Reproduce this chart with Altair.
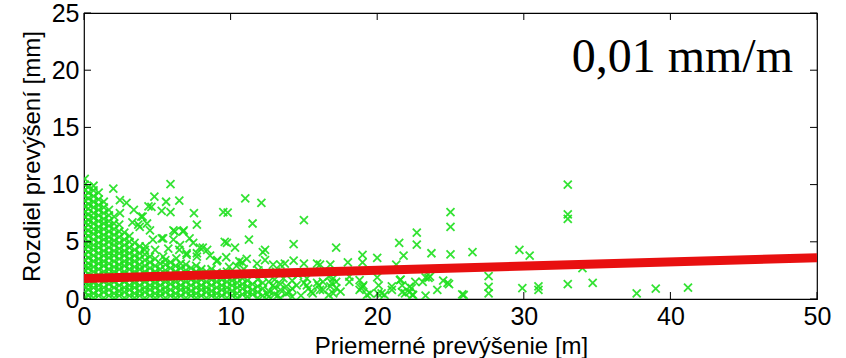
import altair as alt
import pandas as pd

# ---- data ----
x_ticks = [0, 10, 20, 30, 40, 50]
y_ticks = [0, 5, 10, 15, 20, 25]

# dense cluster near the origin: one column of y values per x position
dense_x = [0.05, 0.3, 0.65, 1.0, 1.35, 1.7, 2.05, 2.4, 2.75, 3.1, 3.45, 3.8, 4.15, 4.5,
           4.85, 5.2, 5.55, 5.9, 6.25, 6.6, 6.95, 7.3, 7.65, 8.0, 8.35, 8.7, 9.05, 9.4,
           9.75, 10.1, 10.45, 10.8, 11.15, 11.5, 11.85, 12.2, 12.6, 13.0, 13.4, 13.8, 14.2]
dense_y = [
    [0.15, 0.6, 1.1, 1.5, 2.0, 2.5, 2.9, 3.4, 3.9, 4.4, 4.8, 5.3, 5.8, 6.2, 6.7, 7.2, 7.6, 8.1, 8.6, 9.0, 9.5, 10.0, 10.5],
    [0.3, 0.8, 1.2, 1.7, 2.2, 2.7, 3.1, 3.6, 4.1, 4.6, 5.0, 5.5, 6.0, 6.5, 6.9, 7.4, 7.9, 8.3, 8.8, 9.3, 9.8],
    [0.1, 0.5, 1.0, 1.4, 1.9, 2.4, 2.8, 3.3, 3.8, 4.3, 4.7, 5.2, 5.7, 6.1, 6.6, 7.1, 7.5, 8.0, 8.5, 9.0, 9.5, 9.9],
    [0.3, 0.8, 1.2, 1.7, 2.1, 2.6, 3.1, 3.5, 4.0, 4.5, 4.9, 5.4, 5.9, 6.3, 6.8, 7.3, 7.8, 8.2, 8.7, 9.3],
    [0.1, 0.6, 1.0, 1.5, 2.0, 2.4, 2.9, 3.3, 3.8, 4.2, 4.7, 5.2, 5.6, 6.1, 6.6, 7.0, 7.5, 8.0, 8.5],
    [0.3, 0.8, 1.3, 1.7, 2.2, 2.6, 3.1, 3.6, 4.0, 4.5, 5.0, 5.4, 5.9, 6.4, 6.8, 7.3, 7.8],
    [0.1, 0.5, 1.0, 1.5, 1.9, 2.4, 2.8, 3.3, 3.8, 4.2, 4.7, 5.1, 5.6, 6.1, 6.6, 7.2],
    [0.3, 0.7, 1.2, 1.7, 2.1, 2.6, 3.0, 3.5, 4.0, 4.4, 4.9, 5.4, 5.9, 6.5],
    [0.1, 0.6, 1.0, 1.5, 1.9, 2.4, 2.9, 3.3, 3.8, 4.2, 4.7, 5.2, 5.8],
    [0.3, 0.8, 1.2, 1.7, 2.1, 2.6, 3.1, 3.5, 4.0, 4.5, 5.0, 5.5],
    [0.1, 0.5, 1.0, 1.4, 1.9, 2.4, 2.8, 3.3, 3.8, 4.3, 4.9],
    [0.3, 0.7, 1.2, 1.7, 2.1, 2.6, 3.0, 3.5, 4.0, 4.6],
    [0.1, 0.6, 1.0, 1.5, 1.9, 2.4, 2.9, 3.4, 3.9, 4.3],
    [0.3, 0.8, 1.2, 1.7, 2.2, 2.7, 3.2, 3.7],
    [0.1, 0.5, 1.0, 1.4, 1.9, 2.4, 2.9, 3.5],
    [0.3, 0.7, 1.2, 1.7, 2.2, 2.6, 3.1],
    [0.1, 0.6, 1.0, 1.5, 2.0, 2.5, 3.0, 3.4],
    [0.3, 0.8, 1.3, 1.7, 2.2, 2.7, 3.2],
    [0.1, 0.5, 1.0, 1.5, 2.0, 2.4, 2.9],
    [0.3, 0.8, 1.2, 1.7, 2.2, 2.7, 3.1],
    [0.1, 0.6, 1.0, 1.5, 2.0, 2.5, 3.0],
    [0.3, 0.7, 1.2, 1.7, 2.2, 2.7],
    [0.1, 0.5, 1.0, 1.5, 1.9, 2.4, 2.9],
    [0.3, 0.8, 1.2, 1.7, 2.2, 2.6],
    [0.1, 0.6, 1.0, 1.5, 2.0, 2.4],
    [0.3, 0.7, 1.2, 1.7, 2.1, 2.6],
    [0.1, 0.5, 1.0, 1.5, 1.9, 2.3],
    [0.3, 0.8, 1.2, 1.7, 2.2],
    [0.1, 0.6, 1.0, 1.5, 1.9, 2.4],
    [0.3, 0.7, 1.2, 1.6, 2.1],
    [0.1, 0.5, 1.0, 1.4, 1.9],
    [0.4, 0.9, 1.3, 1.8],
    [0.2, 0.6, 1.1, 1.6],
    [0.4, 0.8, 1.3],
    [0.1, 0.6, 1.1, 1.7],
    [0.3, 0.9, 1.4],
    [0.2, 0.7, 1.5],
    [0.4, 1.0, 1.7],
    [0.1, 0.8, 1.3],
    [0.5, 1.1],
    [0.2, 0.9, 1.6],
]

# scattered points (x [m], y [mm])
scatter_points = [
    (5.9, 10.05), (2.0, 9.65), (4.8, 8.95), (5.6, 8.5), (6.5, 8.6), (4.4, 8.1), (4.6, 8.05),
    (5.3, 7.7), (5.9, 7.6), (7.5, 7.5), (2.45, 8.65), (2.9, 8.4), (3.4, 7.8), (3.9, 7.2),
    (2.45, 7.5), (3.7, 6.5), (4.3, 6.6), (4.5, 6.0), (6.1, 6.0), (6.8, 6.0), (7.2, 5.3),
    (6.1, 5.2), (5.3, 5.3), (6.55, 4.7), (5.75, 4.4), (4.85, 4.3), (4.2, 4.6), (7.45, 4.9),
    (5.4, 3.7), (6.3, 3.55), (7.0, 3.85), (7.7, 4.0),
    (11.0, 8.8), (12.1, 8.4), (9.5, 7.6), (9.8, 7.55), (7.7, 6.5), (11.5, 6.6), (15.0, 6.9),
    (6.2, 5.9), (6.75, 5.9), (11.25, 5.2), (14.3, 4.8), (17.2, 4.5), (4.7, 5.2), (5.4, 5.3),
    (3.3, 6.7), (4.0, 7.2), (3.8, 6.3), (7.9, 4.5), (8.4, 4.3), (9.75, 4.9), (10.3, 4.5),
    (10.8, 3.2), (12.35, 4.3), (12.35, 3.4), (13.4, 3.0), (15.9, 3.1), (18.0, 3.2),
    (8.6, 3.8), (9.1, 3.4), (6.5, 4.3), (7.0, 4.0), (8.1, 4.5), (9.6, 5.0), (12.2, 4.1),
    (7.7, 3.7), (9.05, 3.3), (9.7, 3.65), (10.6, 3.3), (11.1, 3.5), (11.8, 3.1), (12.9, 3.0),
    (13.7, 3.1), (14.3, 3.35), (15.0, 3.1),
    (19.0, 3.85), (19.0, 3.2), (20.0, 3.6), (21.5, 4.9), (22.7, 5.8), (22.7, 4.75), (21.8, 3.8),
    (23.7, 4.0), (25.0, 7.6), (25.0, 6.3), (25.0, 3.9), (26.5, 4.1), (29.7, 4.3), (30.4, 3.8),
    (33.0, 10.0), (33.0, 7.4), (33.0, 7.0), (16.1, 3.0), (16.8, 3.0), (21.3, 3.0), (34.0, 2.7),
    (18.1, 1.5), (19.0, 1.05), (20.0, 1.9), (21.6, 1.7), (21.7, 1.2), (21.7, 0.6), (22.2, 1.05),
    (22.2, 0.6), (22.6, 1.5), (23.3, 1.9), (23.5, 1.85), (24.1, 0.8), (24.8, 1.4), (24.5, 1.6),
    (25.8, 0.4), (27.6, 2.0), (27.6, 1.05), (27.6, 0.5), (29.9, 0.95), (31.0, 1.1), (31.0, 0.8),
    (33.0, 1.3), (34.7, 1.4), (37.7, 0.5), (39.0, 0.9), (41.2, 1.0), (23.1, 1.5), (23.3, 0.3),
    (22.4, 0.35), (24.9, 1.3), (25.9, 0.35),
    (15.2, 1.8), (15.2, 1.2), (15.5, 0.65), (15.9, 1.4), (16.1, 0.8), (16.3, 1.5), (16.7, 1.95),
    (16.8, 1.1), (17.0, 0.5), (17.2, 1.5), (17.5, 0.65), (16.8, 2.4), (18.1, 1.95), (18.8, 0.8),
    (19.3, 0.35), (20.05, 0.5), (20.5, 0.35), (21.0, 0.8), (22.45, 0.35), (23.6, 1.95),
    (15.0, 1.4), (15.3, 0.9), (15.6, 0.5), (16.0, 1.2), (16.3, 0.8), (16.7, 0.35), (16.9, 1.4),
    (17.0, 1.8), (17.2, 0.95), (18.8, 1.65), (18.9, 0.95), (19.05, 1.2), (19.5, 0.5), (20.1, 1.2),
    (20.3, 0.5), (21.0, 1.1), (21.55, 1.65), (21.9, 0.5), (22.35, 0.95),
    (12.5, 0.4), (12.9, 1.2), (13.2, 0.3), (13.6, 1.8), (14.0, 0.6), (14.5, 1.2), (14.8, 0.3),
    (14.6, 2.1), (11.9, 2.5), (12.4, 2.3), (13.1, 2.4), (10.9, 2.6), (9.9, 2.8), (10.4, 2.9),
]

# fitted trend line
fit_x = [0, 50]
fit_y = [1.8, 3.6]

annotation = "0,01 mm/m"
x_title = "Priemerné prevýšenie [m]"
y_title = "Rozdiel prevýšení [mm]"

# ---- build tables ----
rows = [{"x": xv, "y": yv} for xv, ys in zip(dense_x, dense_y) for yv in ys]
rows += [{"x": xv, "y": yv} for xv, yv in scatter_points]
pts_df = pd.DataFrame(rows)
fit_df = pd.DataFrame({"x": fit_x, "y": fit_y})
xt_df = pd.DataFrame({"t": x_ticks})
yt_df = pd.DataFrame({"t": y_ticks})

W, H = 733, 286
x_scale = alt.Scale(domain=[0, 50], nice=False, zero=False)
y_scale = alt.Scale(domain=[0, 25], nice=False, zero=False)

AX_FONT = "Liberation Sans"

x_axis = alt.Axis(values=x_ticks, title=x_title, grid=False, domain=False, ticks=False,
                  labelFont=AX_FONT, labelFontSize=25, labelColor="black", labelPadding=5,
                  labelFlush=False, labelOverlap=False,
                  titleFont=AX_FONT, titleFontSize=24, titleFontWeight="normal", titleColor="black",
                  titleBaseline="alphabetic", titleX=W / 2 + 0.5, titleY=54)
y_axis = alt.Axis(values=y_ticks, title=y_title, grid=False, domain=False, ticks=False,
                  labelFont=AX_FONT, labelFontSize=25, labelColor="black", labelPadding=5,
                  labelFlush=False, labelOverlap=False,
                  titleFont=AX_FONT, titleFontSize=24, titleFontWeight="normal", titleColor="black",
                  titleBaseline="alphabetic", titleAngle=270, titleAlign="center",
                  titleX=-45, titleY=H / 2)

points = alt.Chart(pts_df).mark_point(
    shape="M-1,-1L1,1M-1,1L1,-1", size=64, filled=False, color="#1ee01e",
    strokeWidth=1.8, opacity=0.9, clip=True
).encode(
    x=alt.X("x:Q", scale=x_scale, axis=x_axis),
    y=alt.Y("y:Q", scale=y_scale, axis=y_axis),
)

fit = alt.Chart(fit_df).mark_line(color="#e81010", strokeWidth=9, clip=True).encode(
    x=alt.X("x:Q", scale=x_scale),
    y=alt.Y("y:Q", scale=y_scale),
)

TL = 7
tick_style = dict(color="black", strokeWidth=1)
bottom_ticks = alt.Chart(xt_df).mark_rule(**tick_style).encode(
    x=alt.X("t:Q", scale=x_scale), y=alt.value(H), y2=alt.value(H - TL))
top_ticks = alt.Chart(xt_df).mark_rule(**tick_style).encode(
    x=alt.X("t:Q", scale=x_scale), y=alt.value(0), y2=alt.value(TL))
left_ticks = alt.Chart(yt_df).mark_rule(**tick_style).encode(
    y=alt.Y("t:Q", scale=y_scale), x=alt.value(0), x2=alt.value(TL))
right_ticks = alt.Chart(yt_df).mark_rule(**tick_style).encode(
    y=alt.Y("t:Q", scale=y_scale), x=alt.value(W), x2=alt.value(W - TL))

label = alt.Chart(pd.DataFrame({"text": [annotation]})).mark_text(
    font="Liberation Serif", fontSize=48, color="black", align="right", baseline="alphabetic"
).encode(text="text:N", x=alt.value(709), y=alt.value(59))

chart = alt.layer(points, fit, bottom_ticks, top_ticks, left_ticks, right_ticks, label).properties(
    width=W, height=H,
    padding={"left": 84, "top": 13, "right": 29, "bottom": 59},
    autosize=alt.AutoSizeParams(type="none"),
    background="white",
).configure_view(stroke="black", strokeWidth=1.2)

chart.save("out.html", embed_options={"renderer": "svg", "actions": False})
